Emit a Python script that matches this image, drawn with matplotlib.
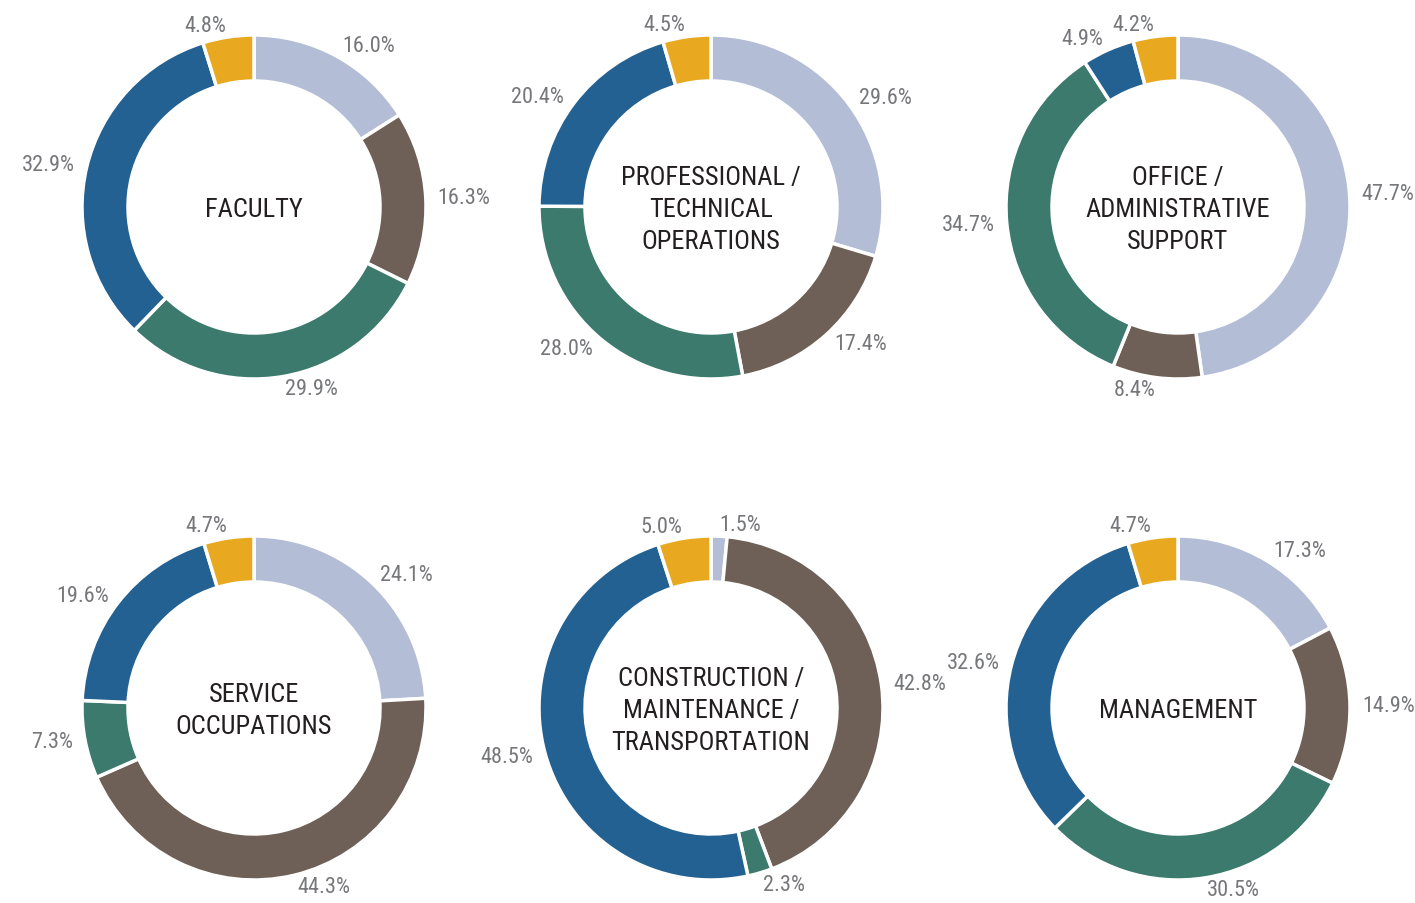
import matplotlib
matplotlib.use("Agg")
import matplotlib.pyplot as plt

plt.rcParams['font.family'] = ['Roboto Condensed', 'Liberation Sans Narrow', 'Roboto', 'DejaVu Sans']

titles = ["FACULTY", "PROFESSIONAL /\nTECHNICAL\nOPERATIONS", "OFFICE /\nADMINISTRATIVE\nSUPPORT",
          "SERVICE\nOCCUPATIONS", "CONSTRUCTION /\nMAINTENANCE /\nTRANSPORTATION", "MANAGEMENT"]
faculty = [16.0, 16.3, 29.9, 32.9, 4.8]
professional = [29.6, 17.4, 28.0, 20.4, 4.5]
office = [47.7, 8.4, 34.7, 4.9, 4.2]
service = [24.1, 44.3, 7.3, 19.6, 4.7]
construction = [1.5, 42.8, 2.3, 48.5, 5.0]
management = [17.3, 14.9, 30.5, 32.6, 4.7]
series = [faculty, professional, office, service, construction, management]
colors = ["#b3bed6", "#6e6057", "#3b7a6c", "#236192", "#e8a920"]

W, H = 1415, 904
fig = plt.figure(figsize=(W / 100, H / 100), dpi=100)
ax = fig.add_axes([0, 0, 1, 1])

centers_x = [254, 711, 1178]
centers_y = [H - 208, H - 709]
R = 172
ring = 46

for i, vals in enumerate(series):
    cx = centers_x[i % 3]
    cy = centers_y[i // 3]
    labels = [f"{v:.1f}%" for v in vals]
    wedges, texts = ax.pie(vals, labels=labels, colors=colors, center=(cx, cy), radius=R,
                           startangle=90, counterclock=False, labeldistance=1.07,
                           wedgeprops=dict(width=ring, edgecolor="white", linewidth=2.5),
                           textprops=dict(color="#76777a", fontsize=16))
    # pie picks the side from the absolute x, so fix it relative to the centre
    for t in texts:
        tx, ty = t.get_position()
        t.set_ha("left" if tx > cx else "right")
    ax.text(cx, cy - 2, titles[i], ha="center", va="center", fontsize=19,
            color="#231f20", linespacing=1.4)

ax.set_xlim(0, W)
ax.set_ylim(0, H)
ax.set_aspect("auto")
ax.axis("off")

fig.savefig("out.png", dpi=100)
